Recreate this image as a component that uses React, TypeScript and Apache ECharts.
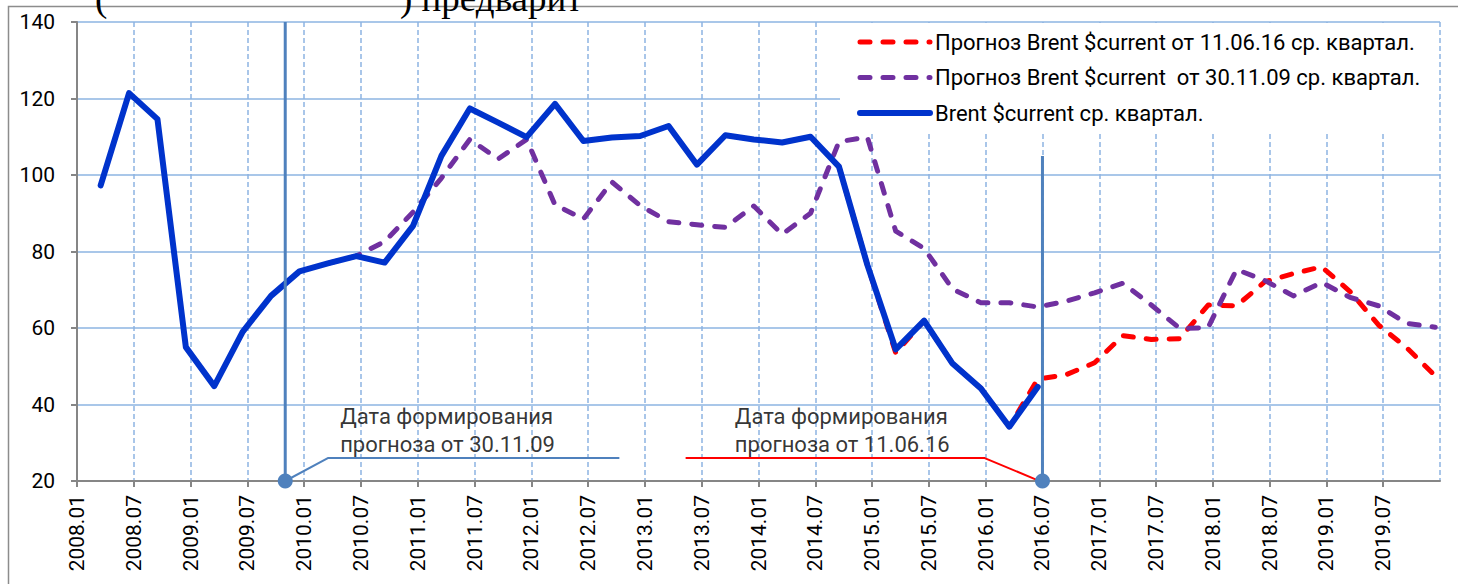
import React, { useEffect, useRef } from 'react';
import * as echarts from 'echarts';

// Quarterly categories (each plotted in the middle of the last month of the quarter)
const quarterLabels = [
  '2008Q1', '2008Q2', '2008Q3', '2008Q4', '2009Q1', '2009Q2', '2009Q3', '2009Q4',
  '2010Q1', '2010Q2', '2010Q3', '2010Q4', '2011Q1', '2011Q2', '2011Q3', '2011Q4',
  '2012Q1', '2012Q2', '2012Q3', '2012Q4', '2013Q1', '2013Q2', '2013Q3', '2013Q4',
  '2014Q1', '2014Q2', '2014Q3', '2014Q4', '2015Q1', '2015Q2', '2015Q3', '2015Q4',
  '2016Q1', '2016Q2', '2016Q3', '2016Q4', '2017Q1', '2017Q2', '2017Q3', '2017Q4',
  '2018Q1', '2018Q2', '2018Q3', '2018Q4', '2019Q1', '2019Q2', '2019Q3', '2019Q4',
];

// Tick labels every 6 months from 2008.01
const tickLabels = [
  '2008.01', '2008.07', '2009.01', '2009.07', '2010.01', '2010.07', '2011.01', '2011.07',
  '2012.01', '2012.07', '2013.01', '2013.07', '2014.01', '2014.07', '2015.01', '2015.07',
  '2016.01', '2016.07', '2017.01', '2017.07', '2018.01', '2018.07', '2019.01', '2019.07',
];

const seriesNames = [
  'Прогноз Brent $current от 11.06.16 ср. квартал.',
  'Прогноз Brent $current  от 30.11.09 ср. квартал.',
  'Brent $current ср. квартал.',
];

// Brent $current, quarterly average (actual)
const brentActual: (number | null)[] = [
  97.3, 121.4, 114.6, 55.0, 44.8, 59.0, 68.4, 74.8,
  76.9, 78.8, 77.1, 86.7, 105.0, 117.4, 113.7, 109.9,
  118.6, 108.9, 109.8, 110.2, 112.8, 102.7, 110.4, 109.3,
  108.5, 110.0, 102.2, 76.5, 54.4, 61.9, 50.7, 44.2,
  34.2, 44.6,
];

// Forecast of 11.06.16
const forecast2016: (number | null)[] = [
  null, null, null, null, null, null, null, null,
  null, null, null, null, null, null, null, null,
  null, null, null, null, null, null, null, null,
  null, null, 102.2, 76.5, 53.5, 61.9, 50.7, 44.2,
  34.2, 46.6, 47.8, 50.9, 58.0, 57.0, 57.2, 66.0,
  65.8, 72.1, 74.2, 76.0, 69.5, 60.8, 54.8, 47.5,
];

// Forecast of 30.11.09
const forecast2009: (number | null)[] = [
  null, null, null, null, null, null, null, null,
  76.9, 78.8, 82.6, 90.3, 99.2, 109.3, 104.2, 109.3,
  92.2, 88.5, 98.2, 92.0, 87.8, 87.0, 86.3, 91.9,
  84.5, 90.0, 108.7, 109.9, 85.3, 80.8, 70.2, 66.6,
  66.6, 65.5, 67.0, 69.2, 71.7, 66.0, 59.9, 60.1,
  75.3, 72.4, 68.4, 71.9, 68.0, 65.8, 61.2, 60.2,
];

// Forecast formation dates (months since 2008.01) and height of their marker lines
const markerMonths = [22, 102];
const markerTops = [140, 105];
const markerTexts = ['Дата формирования\nпрогноза от 30.11.09', 'Дата формирования\nпрогноза от 11.06.16'];

const toMonth = (q: string) => {
  const y = parseInt(q.slice(0, 4), 10);
  const n = parseInt(q.slice(5), 10);
  return (y - 2008) * 12 + (n - 1) * 3 + 2.5;
};

const toPairs = (vals: (number | null)[]) =>
  vals
    .map((v, i) => [toMonth(quarterLabels[i]), v] as [number, number | null])
    .filter((p) => p[1] !== null);

const FONT = 'Roboto';

export default function App() {
  const ref = useRef<HTMLDivElement>(null);

  useEffect(() => {
    if (!ref.current) return;
    const chart = echarts.init(ref.current, undefined, { renderer: 'svg' });

    const option: any = {
      animation: false,
      backgroundColor: '#ffffff',
      textStyle: { fontFamily: FONT },
      grid: { left: 77, right: 18, top: 22, bottom: 103 },
      xAxis: {
        type: 'value',
        min: 0,
        max: 144,
        interval: 6,
        axisLine: { lineStyle: { color: '#868686', width: 2 } },
        axisTick: { show: true, length: 6, lineStyle: { color: '#868686', width: 2 } },
        axisLabel: {
          rotate: 90,
          fontSize: 21,
          color: '#000',
          fontFamily: FONT,
          margin: 14,
          padding: [48, 0, 0, 0],
          showMaxLabel: false,
          formatter: (v: number) => tickLabels[Math.round(v / 6)] ?? '',
        },
        splitLine: { show: true, lineStyle: { color: '#8DB4E2', type: [5, 3], width: 1.5 } },
      },
      yAxis: {
        type: 'value',
        min: 20,
        max: 140,
        interval: 20,
        axisLine: { show: true, lineStyle: { color: '#868686', width: 2 } },
        axisTick: { show: true, length: 6, lineStyle: { color: '#868686', width: 2 } },
        axisLabel: { fontSize: 21, color: '#000', fontFamily: FONT, margin: 22 },
        splitLine: { show: true, lineStyle: { color: '#8DB4E2', width: 1.5 } },
      },
      legend: {
        data: seriesNames,
        orient: 'vertical',
        left: 852,
        top: 25,
        itemWidth: 70,
        itemHeight: 14,
        itemGap: 11.5,
        itemStyle: { opacity: 0, borderWidth: 0 },
        lineStyle: { width: 'inherit', type: 'inherit', cap: 'round' },
        textStyle: { fontSize: 22, color: '#000', fontFamily: FONT, lineHeight: 24 },
      },
      graphic: [
        {
          type: 'rect',
          z: 1,
          shape: { x: 840, y: 23, width: 599, height: 108 },
          style: { fill: '#ffffff' },
        },
        {
          type: 'rect',
          z: 10,
          shape: { x: 8.5, y: 6.5, width: 1460, height: 600 },
          style: { fill: 'none', stroke: '#8c8c8c', lineWidth: 1.5 },
        },
        {
          type: 'text',
          z: 10,
          x: 95,
          y: 17,
          style: { text: '(', font: '37px "Liberation Serif"', fill: '#000', textVerticalAlign: 'bottom' },
        },
        {
          type: 'text',
          z: 10,
          x: 400,
          y: 17,
          style: { text: ') предварит', font: '37px "Liberation Serif"', fill: '#000', textVerticalAlign: 'bottom' },
        },
      ],
      series: [
        {
          name: seriesNames[0],
          type: 'line',
          data: toPairs(forecast2016),
          symbol: 'none',
          z: 3,
          lineStyle: { color: '#FF0000', width: 5, type: [10, 13], cap: 'round', join: 'round' },
          itemStyle: { color: '#FF0000' },
        },
        {
          name: seriesNames[1],
          type: 'line',
          data: toPairs(forecast2009),
          symbol: 'none',
          z: 3,
          lineStyle: { color: '#7030A0', width: 5, type: [10, 13], cap: 'round', join: 'round' },
          itemStyle: { color: '#7030A0' },
        },
        {
          name: seriesNames[2],
          type: 'line',
          data: toPairs(brentActual),
          symbol: 'none',
          z: 4,
          lineStyle: { color: '#0033CC', width: 6, cap: 'round', join: 'round' },
          itemStyle: { color: '#0033CC' },
        },
        ...markerMonths.map((m, i) => ({
          name: 'marker' + i,
          type: 'line',
          data: [[m, 20], [m, markerTops[i]]],
          symbol: 'circle',
          symbolSize: (_v: any, p: any) => (p.dataIndex === 0 ? 15 : 0),
          showSymbol: true,
          z: 5,
          lineStyle: { color: '#4F81BD', width: 3 },
          itemStyle: { color: '#4F81BD' },
        })),
        {
          name: 'leader0',
          type: 'line',
          data: [[markerMonths[0], 20], [26.5, 26], [57.3, 26]],
          symbol: 'none',
          z: 5,
          lineStyle: { color: '#4F81BD', width: 2 },
        },
        {
          name: 'leader1',
          type: 'line',
          data: [[64.3, 26], [95.9, 26], [101.4, 20.3]],
          symbol: 'none',
          z: 5,
          lineStyle: { color: '#FF0000', width: 2 },
        },
        {
          name: 'notes',
          type: 'scatter',
          symbolSize: 0,
          z: 6,
          data: [
            { value: [27.8, 33.3], label: { formatter: markerTexts[0] } },
            { value: [69.5, 33.3], label: { formatter: markerTexts[1] } },
          ],
          label: {
            show: true,
            position: 'right',
            distance: 0,
            fontSize: 22,
            lineHeight: 28,
            color: '#000',
            fontFamily: FONT,
          },
        },
      ],
    };

    chart.setOption(option);
    return () => chart.dispose();
  }, []);

  return (
    <div
      ref={ref}
      style={{ position: 'fixed', left: 0, top: 0, width: 1458, height: 584, background: '#fff' }}
    />
  );
}
